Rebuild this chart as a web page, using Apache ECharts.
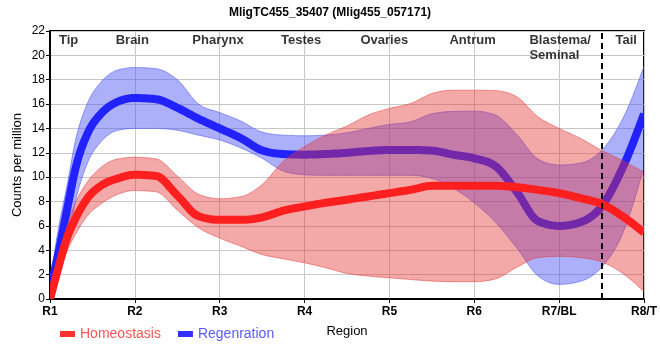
<!DOCTYPE html>
<html><head><meta charset="utf-8">
<script src="https://cdn.jsdelivr.net/npm/echarts@6/dist/echarts.min.js"></script>
<style>html,body{margin:0;padding:0;background:#fff}#c{width:660px;height:360px}</style>
</head><body><div id="c"></div>
<script>
// Sample positions along the region axis (1 = R1 ... 8 = R8)
const xPos = [1, 1.05, 1.1, 1.2, 1.3, 1.45, 1.6, 1.8, 2, 2.25, 2.5, 2.75, 3, 3.25, 3.5, 3.75, 4, 4.25, 4.5, 4.75, 5, 5.25, 5.5, 5.75, 6, 6.25, 6.5, 6.75, 7, 7.25, 7.5, 7.75, 8];
const tickLabels = ['R1', 'R2', 'R3', 'R4', 'R5', 'R6', 'R7/BL', 'R8/T'];
const regionNames = ['Tip', 'Brain', 'Pharynx', 'Testes', 'Ovaries', 'Antrum', 'Blastema/\nSeminal', 'Tail'];
const regionX = [1.22, 1.97, 2.98, 3.96, 4.94, 5.98, 6.65, 7.79];
const regionY = 21.85;
const boundaryX = 7.5;

const homeoMean = [0, 1.3, 2.6, 5.0, 6.6, 8.35, 9.3, 9.9, 10.2, 10.1, 8.5, 6.8, 6.5, 6.5, 6.7, 7.25, 7.6, 7.9, 8.15, 8.42, 8.69, 8.96, 9.29, 9.3, 9.3, 9.29, 9.18, 8.96, 8.69, 8.28, 7.8, 6.78, 5.45];
const homeoLow  = [0, 0.8, 1.8, 3.9, 5.3, 6.9, 7.8, 8.6, 8.9, 8.8, 7.3, 5.85, 5.0, 4.33, 3.65, 3.3, 2.97, 2.56, 2.1, 1.88, 1.74, 1.6, 1.47, 1.42, 1.42, 1.65, 2.6, 3.4, 3.5, 3.4, 3.05, 2.1, 0.6];
const homeoHigh = [0, 2.0, 3.5, 6.0, 7.9, 9.7, 10.8, 11.5, 11.63, 11.5, 10.1, 8.6, 8.23, 8.4, 9.4, 11.3, 12.5, 13.46, 14.2, 15.1, 15.64, 16.05, 16.87, 17.14, 17.14, 17.1, 16.6, 14.96, 14.0, 13.19, 12.2, 11.35, 10.4];

const regenMean = [0, 2.2, 3.8, 7.3, 10.7, 13.7, 15.2, 16.2, 16.5, 16.4, 15.7, 14.8, 14.0, 13.2, 12.2, 11.9, 11.85, 11.9, 12.0, 12.15, 12.23, 12.23, 12.18, 11.85, 11.55, 10.9, 8.8, 6.4, 6.0, 6.3, 7.6, 10.8, 15.2];
const regenLow  = [0, 1.0, 2.1, 4.4, 8.0, 11.3, 12.9, 13.85, 14.0, 14.0, 13.85, 13.45, 13.05, 12.4, 11.55, 10.5, 10.2, 10.15, 10.15, 10.15, 10.15, 10.15, 9.9, 9.1, 7.9, 6.3, 4.2, 1.9, 1.2, 1.45, 2.6, 5.4, 10.8];
const regenHigh = [0, 3.6, 5.8, 9.3, 13.0, 16.2, 17.8, 18.8, 19.0, 18.9, 18.0, 16.0, 15.3, 14.6, 13.7, 13.45, 13.4, 13.45, 13.65, 14.0, 14.33, 14.55, 15.2, 15.4, 15.42, 15.1, 13.5, 11.5, 11.0, 11.15, 12.2, 14.8, 19.1];

const FONT = '"Liberation Sans", Arial, sans-serif';

// monotone-x cubic interpolation of pixel points
function monotone(pts, steps) {
  const n = pts.length;
  if (n < 3) return pts;
  const h = [], s = [];
  for (let i = 0; i < n - 1; i++) {
    h[i] = pts[i + 1][0] - pts[i][0];
    s[i] = h[i] ? (pts[i + 1][1] - pts[i][1]) / h[i] : 0;
  }
  const t = new Array(n);
  for (let i = 1; i < n - 1; i++) {
    const s0 = s[i - 1], s1 = s[i];
    const p = (s0 * h[i] + s1 * h[i - 1]) / (h[i - 1] + h[i]);
    t[i] = (Math.sign(s0) + Math.sign(s1)) * Math.min(Math.abs(s0), Math.abs(s1), 0.5 * Math.abs(p)) || 0;
  }
  t[0] = (3 * s[0] - t[1]) / 2;
  t[n - 1] = (3 * s[n - 2] - t[n - 2]) / 2;
  const out = [];
  for (let i = 0; i < n - 1; i++) {
    const x0 = pts[i][0], y0 = pts[i][1], y1 = pts[i + 1][1], hh = h[i];
    for (let k = 0; k < steps; k++) {
      const u = k / steps, u2 = u * u, u3 = u2 * u;
      const h00 = 2 * u3 - 3 * u2 + 1, h10 = u3 - 2 * u2 + u, h01 = -2 * u3 + 3 * u2, h11 = u3 - u2;
      out.push([x0 + u * hh, h00 * y0 + h10 * hh * t[i] + h01 * y1 + h11 * hh * t[i + 1]]);
    }
  }
  out.push(pts[n - 1]);
  return out;
}

const clipOf = (cs) => ({ type: 'rect', shape: { x: cs.x, y: cs.y, width: cs.width, height: cs.height } });

function bandSeries(name, lo, hi, fill, edge) {
  return {
    type: 'custom', name: name, silent: true, data: [[xPos[0], lo[0]]],
    encode: { x: 0, y: 1 },
    renderItem: (params, api) => {
      const up = monotone(xPos.map((x, i) => api.coord([x, hi[i]])), 12);
      const dn = monotone(xPos.map((x, i) => api.coord([x, lo[i]])), 12);
      return {
        type: 'group', clipPath: clipOf(params.coordSys),
        children: [
          { type: 'polygon', shape: { points: up.concat(dn.slice().reverse()) }, style: { fill: fill, stroke: null } },
          { type: 'polyline', shape: { points: up }, style: { stroke: edge, lineWidth: 1, fill: null } },
          { type: 'polyline', shape: { points: dn }, style: { stroke: edge, lineWidth: 1, fill: null } }
        ]
      };
    }
  };
}

function meanSeries(name, vals, color, extra) {
  return Object.assign({
    type: 'custom', name: name, silent: true, data: [[xPos[0], vals[0]]],
    encode: { x: 0, y: 1 }, itemStyle: { color: color },
    renderItem: (params, api) => {
      const pts = monotone(xPos.map((x, i) => api.coord([x, vals[i]])), 12);
      return {
        type: 'group', clipPath: clipOf(params.coordSys),
        children: [{ type: 'polyline', shape: { points: pts },
          style: { stroke: color, lineWidth: 8, fill: null, lineJoin: 'round', lineCap: 'butt' } }]
      };
    }
  }, extra || {});
}

const chart = echarts.init(document.getElementById('c'), null, { renderer: 'canvas' });
chart.setOption({
  animation: false,
  textStyle: { fontFamily: FONT },
  title: { text: 'MligTC455_35407 (Mlig455_057171)', left: 'center', top: 2,
    textStyle: { fontSize: 12, fontWeight: 'bold', color: '#000', fontFamily: FONT } },
  legend: {
    left: 55, top: 322, itemWidth: 15, itemHeight: 6, itemGap: 17,
    textStyle: { fontSize: 14, fontFamily: FONT },
    data: [
      { name: 'Homeostasis', icon: 'rect', itemStyle: { color: '#ff3030' }, textStyle: { color: '#ff5555' } },
      { name: 'Regenration', icon: 'rect', itemStyle: { color: '#3030ff' }, textStyle: { color: '#5a5aff' } }
    ]
  },
  grid: { left: 50, right: 10, top: 31, bottom: 61, show: true, borderColor: '#000', borderWidth: 2 },
  xAxis: {
    type: 'value', min: 1, max: 8, interval: 1,
    name: 'Region', nameLocation: 'middle', nameGap: 26,
    nameTextStyle: { fontSize: 13, color: '#000', fontFamily: FONT },
    axisLine: { show: true, lineStyle: { color: '#000', width: 2 } },
    axisTick: { show: true, length: 4, lineStyle: { color: '#000' } },
    axisLabel: { color: '#000', fontSize: 12, fontWeight: 'bold', margin: 7, fontFamily: FONT,
      formatter: (v) => tickLabels[Math.round(v) - 1] || '' },
    splitLine: { show: true, lineStyle: { color: '#c8c8c8', width: 1 } }
  },
  yAxis: {
    type: 'value', min: 0, max: 22, interval: 2,
    name: 'Counts per million', nameLocation: 'middle', nameGap: 26, nameMoveOverlap: false,
    nameTextStyle: { fontSize: 13, color: '#000', fontFamily: FONT },
    axisLine: { show: true, lineStyle: { color: '#000', width: 2 } },
    axisTick: { show: true, length: 4, lineStyle: { color: '#000' } },
    axisLabel: { color: '#000', fontSize: 12, margin: 5, fontFamily: FONT },
    splitLine: { show: true, lineStyle: { color: '#c8c8c8', width: 1 } }
  },
  series: [
    bandSeries('regenBand', regenLow, regenHigh, 'rgba(70,80,245,0.45)', 'rgba(70,80,245,0.55)'),
    meanSeries('Regenration', regenMean, '#2222ff'),
    bandSeries('homeoBand', homeoLow, homeoHigh, 'rgba(228,50,50,0.42)', 'rgba(228,50,50,0.5)'),
    meanSeries('Homeostasis', homeoMean, '#ff1f1f', {
      markLine: { silent: true, symbol: 'none', label: { show: false },
        lineStyle: { color: '#000', type: [6, 4], width: 2 },
        data: [{ xAxis: boundaryX }] } }),
    { type: 'scatter', name: 'regions', symbolSize: 0, silent: true,
      data: regionNames.map((n, i) => ({ value: [regionX[i], regionY], name: n,
        label: { align: i === 6 ? 'left' : 'center' } })),
      label: { show: true, position: [0, 0], verticalAlign: 'top', formatter: (p) => p.name,
        fontSize: 13, fontWeight: 'bold', color: '#000', lineHeight: 15, fontFamily: FONT } }
  ]
});
</script>
</body></html>
